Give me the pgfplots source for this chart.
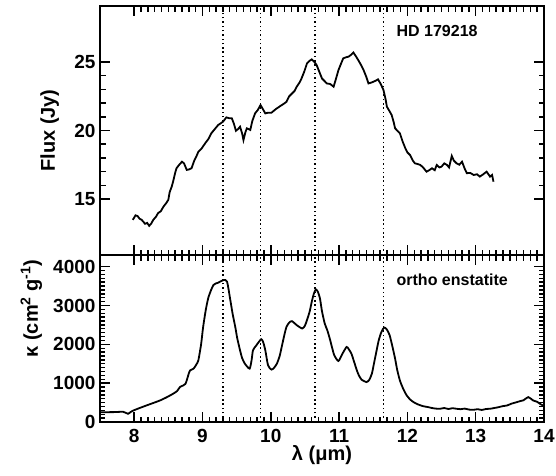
\documentclass[border=0pt]{standalone}
\usepackage{pgfplots}
\pgfplotsset{compat=1.18}
\usepackage{fontspec}
\setmainfont{Liberation Sans}

% spectrum of HD 179218
\newcommand\fluxdata{
(7.98,13.47) (8.02,13.80) (8.05,13.75) (8.08,13.55) (8.11,13.47) (8.14,13.30)
(8.16,13.18) (8.19,13.25) (8.22,13.03) (8.25,13.20) (8.28,13.47) (8.32,13.70)
(8.35,13.96) (8.39,14.10) (8.43,14.44) (8.47,14.70) (8.50,14.93) (8.52,15.50)
(8.55,15.90) (8.57,16.26) (8.60,16.90) (8.62,17.24) (8.66,17.50) (8.70,17.72)
(8.73,17.60) (8.77,17.12) (8.80,17.15) (8.84,17.24) (8.88,17.80) (8.91,18.10)
(8.94,18.45) (8.99,18.70) (9.04,19.07) (9.09,19.40) (9.13,19.80) (9.18,20.10)
(9.23,20.40) (9.30,20.64) (9.35,20.96) (9.39,20.90) (9.43,20.89) (9.46,20.50)
(9.49,19.98) (9.52,20.10) (9.55,20.28) (9.58,19.80) (9.60,19.30) (9.63,19.90)
(9.65,20.16) (9.70,20.04) (9.73,20.70) (9.77,21.25) (9.81,21.50) (9.85,21.86)
(9.88,21.60) (9.92,21.25) (9.96,21.30) (10.01,21.30) (10.07,21.55) (10.14,21.79)
(10.19,21.95) (10.23,22.10) (10.27,22.50) (10.31,22.70) (10.35,22.90) (10.38,23.20)
(10.42,23.50) (10.45,23.80) (10.49,24.30) (10.53,24.90) (10.57,25.10) (10.60,25.20)
(10.64,25.00) (10.67,24.80) (10.71,24.30) (10.75,23.80) (10.79,23.60) (10.82,23.44)
(10.87,23.40) (10.92,23.20) (10.95,23.70) (10.99,24.40) (11.03,24.90) (11.06,25.27)
(11.10,25.35) (11.14,25.40) (11.18,25.55) (11.21,25.70) (11.25,25.40) (11.28,25.15)
(11.32,24.80) (11.36,24.40) (11.40,23.90) (11.43,23.44) (11.47,23.50) (11.50,23.56)
(11.54,23.65) (11.57,23.74) (11.61,23.40) (11.65,22.96) (11.68,22.30) (11.70,21.74)
(11.74,21.40) (11.77,21.13) (11.80,20.60) (11.82,20.16) (11.86,19.95) (11.89,19.80)
(11.93,19.20) (11.97,18.70) (12.00,18.40) (12.04,18.20) (12.08,17.80) (12.11,17.60)
(12.15,17.55) (12.19,17.48) (12.23,17.30) (12.28,16.99) (12.32,17.10) (12.36,17.24)
(12.40,17.10) (12.43,17.48) (12.47,17.30) (12.50,17.36) (12.54,17.60) (12.58,17.48)
(12.61,17.30) (12.65,18.14) (12.68,17.80) (12.72,17.60) (12.76,17.50) (12.80,17.72)
(12.84,17.20) (12.87,16.88) (12.92,16.90) (12.97,16.75) (13.02,16.80) (13.06,16.63)
(13.11,16.80) (13.16,16.99) (13.21,16.63) (13.24,16.75) (13.26,16.26)
}

% mass absorption coefficient of ortho enstatite
\newcommand\kappadata{
(7.50,253) (7.57,253) (7.70,255) (7.84,262) (7.91,212) (7.95,260) (7.99,297)
(8.08,360) (8.18,426) (8.28,490) (8.38,556) (8.48,640) (8.57,728) (8.63,800)
(8.67,900) (8.72,943) (8.75,980) (8.77,1072) (8.80,1250) (8.82,1331) (8.87,1375)
(8.91,1480) (8.94,1589) (8.98,2000) (9.01,2450) (9.05,2900) (9.09,3225) (9.16,3527)
(9.23,3587) (9.31,3656) (9.36,3613) (9.40,3225) (9.44,2800) (9.48,2450) (9.51,2150)
(9.55,1848) (9.58,1650) (9.62,1504) (9.69,1375) (9.72,1600) (9.74,1848) (9.79,1977)
(9.86,2132) (9.89,2050) (9.92,1848) (9.96,1460) (10.01,1349) (10.05,1400) (10.09,1504)
(10.13,1700) (10.16,1933) (10.20,2250) (10.23,2450) (10.27,2560) (10.31,2597) (10.38,2494)
(10.46,2408) (10.50,2480) (10.53,2623) (10.57,2850) (10.60,3096) (10.63,3300) (10.66,3416)
(10.69,3350) (10.72,3183) (10.75,2850) (10.79,2537) (10.83,2350) (10.87,2106) (10.90,1900)
(10.93,1718) (10.99,1571) (11.05,1762) (11.11,1933) (11.14,1880) (11.18,1762) (11.22,1550)
(11.26,1331) (11.29,1200) (11.33,1090) (11.40,1028) (11.44,1080) (11.48,1245) (11.51,1500)
(11.55,1848) (11.58,2100) (11.62,2320) (11.66,2434) (11.70,2380) (11.74,2235) (11.78,1950)
(11.82,1633) (11.85,1350) (11.89,1072) (11.94,850) (11.99,685) (12.04,580) (12.09,512)
(12.16,450) (12.23,408) (12.30,385) (12.36,360) (12.42,345) (12.48,341) (12.54,360)
(12.60,335) (12.66,355) (12.72,341) (12.78,330) (12.84,345) (12.90,320) (12.97,315)
(13.03,330) (13.09,310) (13.15,335) (13.21,341) (13.27,360) (13.33,380) (13.40,410)
(13.46,426) (13.52,470) (13.58,500) (13.65,537) (13.70,560) (13.77,641) (13.84,556)
(13.90,520) (13.94,470) (14.00,408)
}

\pgfplotsset{
  every axis/.append style={
    scale only axis, width=444pt,
    xmin=7.5, xmax=14,
    axis line style={line width=1.5pt},
    major tick style={line width=1.6pt, black},
    minor tick style={line width=1.4pt, black},
    tick align=inside,
    major tick length=10pt, minor tick length=5.5pt,
    xtick={8,...,14}, minor x tick num=9,
    tick label style={font=\fontsize{19}{22}\selectfont\bfseries},
    /pgf/number format/assume math mode=true,
    yticklabel style={anchor=east, xshift=-1pt},
  },
  dotline/.style={line width=1.6pt, dash pattern=on 1.5pt off 2.8pt},
}

\begin{document}
\begin{tikzpicture}
\path[use as bounding box] (-100pt,-53pt) rectangle (456pt,422pt);

\begin{axis}[
  at={(0pt,167pt)}, anchor=south west,
  height=249pt,
  ymin=10.9, ymax=29.1,
  ytick={15,20,25}, minor y tick num=4,
  xticklabels={},
  ylabel={Flux (Jy)},
  every axis y label/.style={at={(rel axis cs:0,0.5)}, xshift=-45pt,
    rotate=90, anchor=base, font=\fontsize{20}{24}\selectfont\bfseries},
]
\addplot[line width=1.8pt] coordinates {\fluxdata};
\addplot[dotline] coordinates {(9.3,10.9) (9.3,29.1)};
\addplot[dotline] coordinates {(9.85,10.9) (9.85,29.1)};
\addplot[dotline] coordinates {(10.65,10.9) (10.65,29.1)};
\addplot[dotline] coordinates {(11.65,10.9) (11.65,29.1)};
\node[anchor=west, font=\fontsize{16}{19}\selectfont\bfseries, inner sep=0pt]
  at (axis cs:11.84,27.26) {HD 179218};
\end{axis}

\begin{axis}[
  at={(0pt,0pt)}, anchor=south west,
  height=167pt,
  ymin=0, ymax=4300,
  ytick={0,1000,2000,3000,4000}, minor y tick num=9,
  scaled y ticks=false,
  yticklabel style={/pgf/number format/1000 sep={}},
  xlabel={λ (μm)},
  ylabel={κ (cm\textsuperscript{2} g\textsuperscript{-1})},
  every axis x label/.style={at={(rel axis cs:0.5,0)}, yshift=-38pt, anchor=base,
    font=\fontsize{20}{24}\selectfont\bfseries},
  every axis y label/.style={at={(rel axis cs:0,0.68)}, xshift=-62pt,
    rotate=90, anchor=base, font=\fontsize{20}{24}\selectfont\bfseries},
  xticklabel style={anchor=base, yshift=-20pt},
]
\addplot[line width=1.8pt, smooth, tension=0.4] coordinates {\kappadata};
\addplot[dotline] coordinates {(9.3,0) (9.3,4300)};
\addplot[dotline] coordinates {(9.85,0) (9.85,4300)};
\addplot[dotline] coordinates {(10.65,0) (10.65,4300)};
\addplot[dotline] coordinates {(11.65,0) (11.65,4300)};
\node[anchor=west, font=\fontsize{16}{19}\selectfont\bfseries, inner sep=0pt]
  at (axis cs:11.84,3656) {ortho enstatite};
\end{axis}
\end{tikzpicture}
\end{document}
